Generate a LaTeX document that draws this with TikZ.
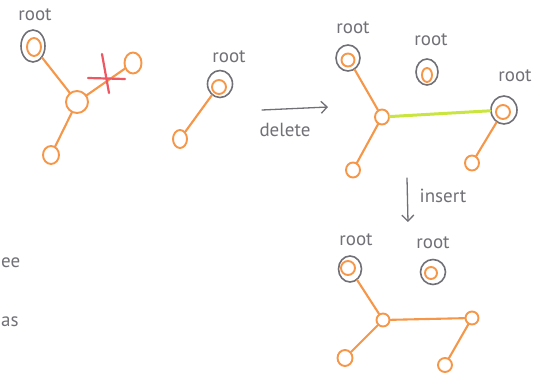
\documentclass[tikz,border=0pt]{standalone}
\usepackage{fontspec}
\setmainfont{PT Sans}
\usetikzlibrary{shapes.geometric,arrows.meta}

\definecolor{pen}{RGB}{245,150,72}
\definecolor{ink}{RGB}{112,112,118}
\definecolor{cross}{RGB}{238,88,98}
\definecolor{link}{RGB}{202,228,64}

\begin{document}
\begin{tikzpicture}[x=1pt,y=-1pt,
  vert/.style={ellipse, draw=pen, line width=1.9pt, inner sep=0pt, minimum width=14pt, minimum height=16pt},
  ring/.style={ellipse, draw=ink, line width=1.6pt, inner sep=0pt, minimum width=24pt, minimum height=27pt},
  edge/.style={draw=pen, line width=2.1pt, line cap=round},
  newedge/.style={draw=link, line width=3pt, line cap=round},
  lbl/.style={text=ink, font=\fontsize{19}{19}\selectfont, inner sep=0pt},
  move/.style={draw=ink, line width=1.3pt, line cap=round, -{Straight Barb[length=6pt,width=12pt,line width=1.3pt]}}]

\useasboundingbox (0,0) rectangle (547,377);

% ---------- tree before deletion ----------
\node[ring, minimum width=24pt, minimum height=32pt] (ar) at (33,46) {};
\node[vert, minimum width=14pt, minimum height=18pt] (a) at (34,47) {};
\node[lbl] at (35,15) {root};
\node[vert, minimum width=22pt, minimum height=22pt] (b) at (77,102) {};
\node[vert, minimum width=17pt, minimum height=21pt] (c) at (133,63) {};
\node[vert, minimum width=16pt, minimum height=18pt] (d) at (51,155) {};
\draw[edge] (ar) -- (b);
\draw[edge] (b) -- (c);
\draw[edge] (b) -- (d);
% the cut edge
\draw[cross, line width=2.2pt, line cap=round] (88,78) -- (125,79);
\draw[cross, line width=2.2pt, line cap=round] (102,54) -- (109,93);

% ---------- detached subtree ----------
\node[ring, minimum width=25pt, minimum height=27pt] (er) at (220,84) {};
\node[vert, minimum width=14pt, minimum height=14pt] (e) at (219,87) {};
\node[lbl] at (229,57) {root};
\node[vert, minimum width=14pt, minimum height=18pt] (f) at (180,139) {};
\draw[edge] (er) -- (f);

% delete step
\coordinate (d0) at (262,110);
\coordinate (d1) at (328,107);
\draw[move] (d0) -- (d1);
\node[lbl, font=\fontsize{19}{19}\selectfont] at (285,130) {delete};

% ---------- forest after deletion ----------
\node[ring, minimum width=24pt, minimum height=26pt] (gr) at (348,58) {};
\node[vert, minimum width=13pt, minimum height=13pt] (g) at (348,60) {};
\node[lbl] at (353,28) {root};
\node[ring, minimum width=22pt, minimum height=26pt] (hr) at (427,72) {};
\node[vert, minimum width=10pt, minimum height=14pt] (h) at (427,75) {};
\node[lbl] at (431,40) {root};
\node[ring, minimum width=26pt, minimum height=28pt] (ir) at (504,110) {};
\node[vert, minimum width=14pt, minimum height=14pt] (i) at (503,112) {};
\node[lbl] at (515,76) {root};
\node[vert, minimum width=14pt, minimum height=15pt] (j) at (382,117) {};
\node[vert, minimum width=14pt, minimum height=15pt] (k) at (353,170) {};
\node[vert, minimum width=14pt, minimum height=15pt] (l) at (472,163) {};
\draw[edge] (gr) -- (j);
\draw[edge] (j) -- (k);
\draw[edge] (ir) -- (l);
\draw[newedge] (j) -- (ir);

% insert step
\coordinate (s0) at (407,178);
\coordinate (s1) at (408,222);
\draw[move] (s0) -- (s1);
\node[lbl] at (443,196) {insert};

% ---------- forest after insertion ----------
\node[ring, minimum width=23pt, minimum height=26pt] (mr) at (350,269) {};
\node[vert, minimum width=14pt, minimum height=14pt] (m) at (348,268) {};
\node[lbl] at (356,240) {root};
\node[ring, minimum width=25pt, minimum height=25pt] (nr) at (433,272) {};
\node[vert, minimum width=12pt, minimum height=12pt] (n) at (431,273) {};
\node[lbl] at (433,243) {root};
\node[vert, minimum width=13pt, minimum height=13pt] (o) at (383,320) {};
\node[vert, minimum width=13pt, minimum height=13pt] (p) at (472,318) {};
\node[vert, minimum width=15pt, minimum height=16pt] (q) at (345,358) {};
\node[vert, minimum width=14pt, minimum height=14pt] (r) at (445,365) {};
\draw[edge] (mr) -- (o);
\draw[edge] (o) -- (p);
\draw[edge] (o) -- (q);
\draw[edge] (p) -- (r);

% ---------- words at the left edge ----------
\node[lbl, anchor=west] at (1,263) {ee};
\node[lbl, anchor=west] at (1,322) {as};
\end{tikzpicture}
\end{document}
